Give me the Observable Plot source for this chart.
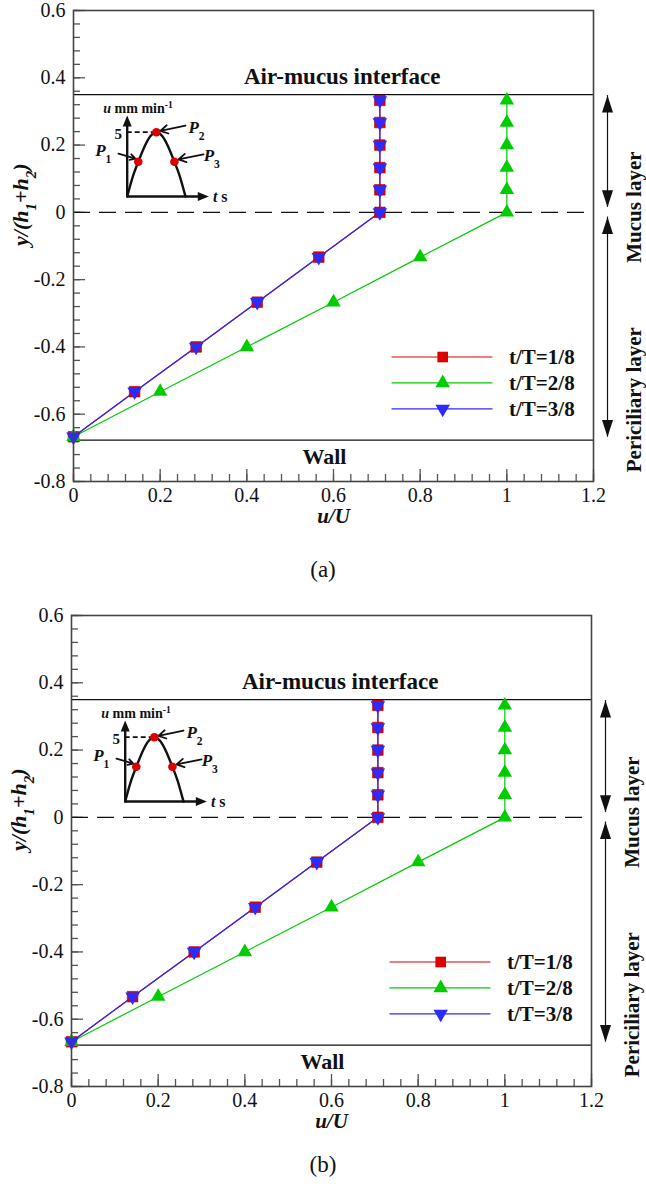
<!DOCTYPE html>
<html><head><meta charset="utf-8">
<script src="https://cdn.jsdelivr.net/npm/d3@7"></script>
<script src="https://cdn.jsdelivr.net/npm/@observablehq/plot@0.6"></script>
<style>
body{margin:0;background:#fff;width:646px;}
.panel{position:relative;width:646px;}
.cap{text-align:center;font-family:'Liberation Serif';font-size:23px;color:#111;}
.inset{position:absolute;}
svg{display:block;}
</style></head><body><div id="root"></div>
<script>
// ---- data ----
const yLevels = [-0.667,-0.533,-0.4,-0.267,-0.133,0,0.067,0.133,0.2,0.267,0.333];
const uT1 = [0,0.141,0.283,0.424,0.566,0.707,0.707,0.707,0.707,0.707,0.707];
const uT2 = [0,0.2,0.4,0.6,0.8,1,1,1,1,1,1];
const uT3 = [0,0.141,0.283,0.424,0.566,0.707,0.707,0.707,0.707,0.707,0.707];
const seriesNames = ["t/T=1/8","t/T=2/8","t/T=3/8"];
const seriesColors = ["#dd0000","#00cc00","#2b2bff"];
const xMajor = [0,0.2,0.4,0.6,0.8,1,1.2];
const yMajor = [-0.8,-0.6,-0.4,-0.2,0,0.2,0.4,0.6];
const interfaceY = 0.35, wallY = -0.677, boundaryY = 0;
const layerNames = ["Mucus layer","Periciliary layer"];
const layerSpans = [[0.347,0.015],[-0.014,-0.668]];
// inset schematic u(t)
const insetT = [0,0.1,0.19,0.3,0.4,0.5,0.6,0.7,0.81,0.9,1];
const insetU = [0,1.6,2.7,3.9,4.7,5,4.7,3.9,2.7,1.6,0];
const insetPtT = [0.19,0.5,0.81];
const insetPtU = [2.7,5,2.7];
const insetPtLabels = ["*P*_{1}","*P*_{2}","*P*_{3}"];
const insetPeak = 5;

const xMinor = d3.range(0,1.2001,0.04);
const yMinor = d3.range(-0.8,0.6001,0.04);

function richify(root){
  root.querySelectorAll("text").forEach(t=>{
    if (t.children.length) return;
    const s = t.textContent;
    if (!/[_^]\{|\*/.test(s)) return;
    t.textContent = "";
    const re = /([_^])\{([^}]*)\}|\*([^*]+)\*/g; let last=0, m;
    const add=(str, kind)=>{ if(!str) return; const ts=document.createElementNS("http://www.w3.org/2000/svg","tspan"); ts.textContent=str;
      if(kind==="_"||kind==="^"){ ts.setAttribute("baseline-shift", kind==="_"?"sub":"super"); ts.setAttribute("font-size","68%"); }
      if(kind==="i"){ ts.setAttribute("font-style","italic"); }
      t.appendChild(ts); };
    while((m=re.exec(s))){ add(s.slice(last,m.index)); if(m[3]!==undefined) add(m[3],"i"); else add(m[2], m[1]); last=re.lastIndex; }
    add(s.slice(last));
  });
}

const triDown = {draw(ctx,size){const y=-Math.sqrt(size/(Math.sqrt(3)*3));ctx.moveTo(0,-y*2);ctx.lineTo(-Math.sqrt(3)*y,y);ctx.lineTo(Math.sqrt(3)*y,y);ctx.closePath();}};
const headUp = {draw(ctx){ctx.moveTo(0,0);ctx.lineTo(-5.5,17);ctx.lineTo(5.5,17);ctx.closePath();}};
const headDown = {draw(ctx){ctx.moveTo(0,0);ctx.lineTo(-5.5,-17);ctx.lineTo(5.5,-17);ctx.closePath();}};
const smallUp = {draw(ctx){ctx.moveTo(0,0);ctx.lineTo(-4.5,11);ctx.lineTo(4.5,11);ctx.closePath();}};
const smallRight = {draw(ctx){ctx.moveTo(0,0);ctx.lineTo(-11,-4.5);ctx.lineTo(-11,4.5);ctx.closePath();}};
const symbols = ["square","triangle",triDown];
const allU = [uT1,uT2,uT3];
const FF = "Liberation Serif";

function mainPlot(ml, mt){
  const width=646, height=540, mr=646-ml-520, mb=height-mt-471;
  const W=520, H=471;
  const rows = seriesNames.flatMap((n,i)=>yLevels.map((y,j)=>({series:n,i,u:allU[i][j],y})));
  const arrowX = 1.2 + 14/(W/1.2);
  const legX1=0.735, legX2=0.968, legXm=0.852, legXt=1.005, legY0=-0.43, legDy=-0.077;
  const marks = [
    Plot.tickX(xMinor,{insetTop:H-7,stroke:"#555",strokeWidth:1.3}),
    Plot.tickX(xMajor,{insetTop:H-12,stroke:"#555",strokeWidth:1.3}),
    Plot.tickY(yMinor,{insetRight:W-7,stroke:"#555",strokeWidth:1.3}),
    Plot.tickY(yMajor,{insetRight:W-12,stroke:"#555",strokeWidth:1.3}),
    Plot.axisX({ticks:xMajor,tickSize:0,tickPadding:6,label:null,tickFormat:d=>String(+d.toFixed(1)),fontSize:20,fontFamily:FF}),
    Plot.axisY({ticks:yMajor,tickSize:0,tickPadding:8,label:null,tickFormat:d=>String(+d.toFixed(1)),fontSize:20,fontFamily:FF}),
    Plot.ruleY([interfaceY,wallY],{stroke:"#111",strokeWidth:1.2}),
    Plot.ruleY([boundaryY],{stroke:"#111",strokeWidth:1.2,strokeDasharray:"17,9"}),
  ];
  seriesNames.forEach((n,i)=>marks.push(Plot.line(rows.filter(r=>r.i===i),{x:"u",y:"y",stroke:seriesColors[i],strokeWidth:1.2})));
  seriesNames.forEach((n,i)=>marks.push(Plot.dot(rows.filter(r=>r.i===i),{x:"u",y:"y",symbol:symbols[i],r:i===0?6:5.4,fill:seriesColors[i],stroke:i===0?"#b00000":"none",strokeWidth:0.6})));
  seriesNames.forEach((n,i)=>{
    const ly = legY0 + i*legDy;
    marks.push(Plot.ruleY([ly],{x1:legX1,x2:legX2,stroke:seriesColors[i],strokeWidth:1.2}));
    marks.push(Plot.dot([ly],{x:legXm,y:d=>d,symbol:symbols[i],r:i===0?6:5.4,fill:seriesColors[i]}));
    marks.push(Plot.text([n],{x:legXt,y:ly,text:d=>d,textAnchor:"start",fontWeight:"bold",fontSize:21,fontFamily:FF}));
  });
  marks.push(
    Plot.text(["Air-mucus interface"],{x:0.62,y:0.402,text:d=>d,fontWeight:"bold",fontSize:23,fontFamily:FF}),
    Plot.text(["Wall"],{x:0.579,y:-0.727,text:d=>d,fontWeight:"bold",fontSize:22,fontFamily:FF}),
    Plot.text(["*y*/(*h*_{1}+*h*_{2})"],{frameAnchor:"left",dx:-53,rotate:-90,text:d=>d,fontWeight:"bold",fontStyle:"italic",fontSize:22,fontFamily:FF}),
    Plot.text(["*u*/*U*"],{frameAnchor:"bottom",dy:41,text:d=>d,fontWeight:"bold",fontStyle:"italic",fontSize:21,fontFamily:FF}),
  );
  layerNames.forEach((n,k)=>{
    const [a,b]=layerSpans[k];
    marks.push(Plot.ruleX([arrowX],{y1:a,y2:b,stroke:"#111",strokeWidth:1.2}));
    marks.push(Plot.dot([a],{x:arrowX,y:d=>d,symbol:headUp,fill:"#111"}));
    marks.push(Plot.dot([b],{x:arrowX,y:d=>d,symbol:headDown,fill:"#111"}));
    marks.push(Plot.text([n],{frameAnchor:"right",dx:41,y:(a+b)/2,rotate:-90,text:d=>d,fontWeight:"bold",fontSize:21,fontFamily:FF}));
  });
  marks.push(Plot.frame({stroke:"#444",strokeWidth:1.6}));
  const p = Plot.plot({width,height,marginLeft:ml,marginRight:mr,marginTop:mt,marginBottom:mb,
    x:{domain:[0,1.2]}, y:{domain:[-0.8,0.6]},
    style:{fontFamily:FF,fontSize:"20px",color:"#111",background:"white",overflow:"visible"},
    marks});
  richify(p); return p;
}

function insetPlot(){
  const curve = insetT.map((t,i)=>({t,u:insetU[i]}));
  const pts = insetPtT.map((t,i)=>({t,u:insetPtU[i],label:insetPtLabels[i]}));
  const labelPos = [[-0.41,3.58],[1.19,5.37],[1.45,3.19]];
  const arrows = [[-0.15,3.34,0.14,2.95],[1.0,5.52,0.57,5.1],[1.31,3.27,0.88,2.88]];
  const p = Plot.plot({width:150,height:115,marginLeft:36.7,marginRight:31.7,marginTop:20,marginBottom:14,
    x:{domain:[0,1.4],axis:null}, y:{domain:[0,6.3],axis:null},
    style:{fontFamily:FF,fontSize:"14px",color:"#111",background:"transparent",overflow:"visible"},
    marks:[
      Plot.ruleY([insetPeak],{x1:0,x2:0.5,stroke:"#111",strokeWidth:1.8,strokeDasharray:"5,3"}),
      Plot.ruleX([0],{y1:0,y2:5.8,stroke:"#111",strokeWidth:2.4}),
      Plot.ruleY([0],{x1:0,x2:1.25,stroke:"#111",strokeWidth:2.4}),
      Plot.dot([0],{x:0,y:6.3,symbol:smallUp,fill:"#111"}),
      Plot.dot([0],{x:1.4,y:0,symbol:smallRight,fill:"#111"}),
      Plot.line(curve,{x:"t",y:"u",curve:"natural",stroke:"#111",strokeWidth:2.4}),
      Plot.arrow(arrows,{x1:d=>d[0],y1:d=>d[1],x2:d=>d[2],y2:d=>d[3],stroke:"#111",strokeWidth:1.8,headLength:7}),
      Plot.dot(pts,{x:"t",y:"u",r:4.3,fill:"#dd0000"}),
      Plot.text(pts,{x:(d,i)=>labelPos[i][0],y:(d,i)=>labelPos[i][1],text:"label",fontWeight:"bold",fontSize:17,fontFamily:FF}),
      Plot.text(["*u* mm min^{-1}"],{x:-0.41,y:6.84,text:d=>d,textAnchor:"start",fontWeight:"bold",fontSize:14,fontFamily:FF}),
      Plot.text([String(insetPeak)],{x:-0.155,y:4.85,text:d=>d,fontWeight:"bold",fontSize:15,fontFamily:FF}),
      Plot.text(["*t* s"],{x:1.47,y:-0.05,text:d=>d,textAnchor:"start",fontWeight:"bold",fontSize:16,fontFamily:FF}),
    ]});
  richify(p); return p;
}

const root = document.getElementById("root");
function panel(ml, mt, insetLeft, insetTop, cap, capH){
  const div = document.createElement("div"); div.className="panel";
  div.appendChild(mainPlot(ml, mt));
  const ins = document.createElement("div"); ins.className="inset";
  ins.style.left=insetLeft+"px"; ins.style.top=insetTop+"px";
  ins.appendChild(insetPlot()); div.appendChild(ins);
  const c = document.createElement("div"); c.className="cap"; c.textContent=cap;
  c.style.height=capH+"px"; c.style.lineHeight=capH+"px";
  div.appendChild(c); root.appendChild(div);
}
panel(73, 10, 90, 95, "(a)", 60);
panel(71, 15, 88, 100, "(b)", 50);
</script></body></html>
